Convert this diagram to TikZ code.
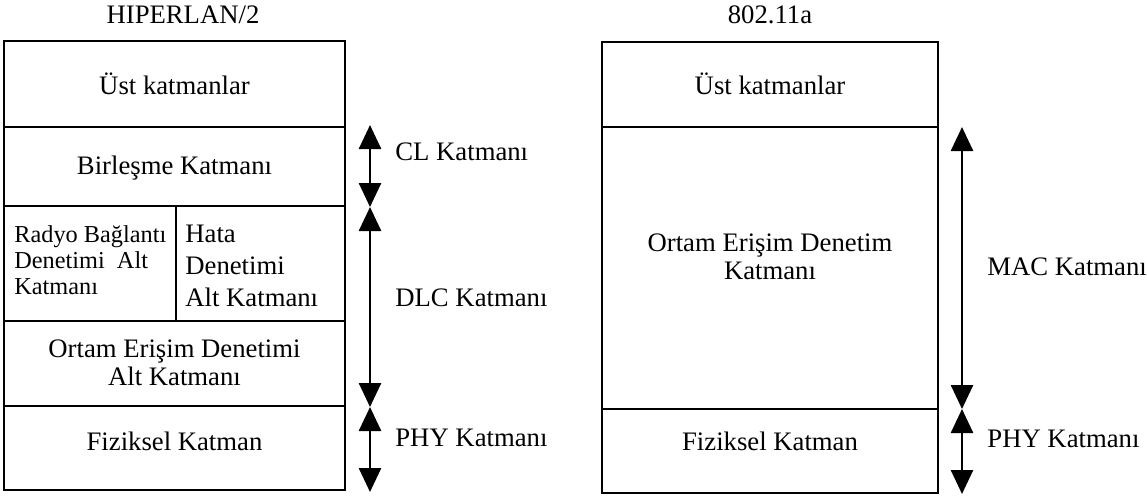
\documentclass[tikz,border=0pt]{standalone}
\usepackage{fontspec}
\setmainfont{Liberation Serif}
\usetikzlibrary{arrows.meta,fit}
\begin{document}
\begin{tikzpicture}[x=0.5pt,y=-0.5pt,
  box/.style={draw, line width=1.4pt, inner sep=0pt},
  lbl/.style={font=\fontsize{13.35}{14}\selectfont, inner sep=0pt},
  dim/.style={line width=1.3pt, {Triangle[width=11pt,length=12pt]}-{Triangle[width=11pt,length=12pt]}}]
\useasboundingbox (0,0) rectangle (1147,499);

% titles
\node[lbl] (title1) at (183,15) {HIPERLAN/2};
\node[lbl] (title2) at (770,15) {802.11a};

% left stack
\node[box, fit={(4,41)(345,127)}] (lust) {};
\node[box, fit={(4,127)(345,206)}] (lcl) {};
\node[box, fit={(4,206)(176,321)}] (lrlc) {};
\node[box, fit={(176,206)(345,321)}] (lec) {};
\node[box, fit={(4,321)(345,406)}] (lmac) {};
\node[box, fit={(4,406)(345,490)}] (lphy) {};

\node[lbl] (tlust) at (174.5,84) {Üst katmanlar};
\node[lbl] (tlcl) at (174.5,168) {Birleşme Katmanı};
\node[lbl, anchor=north west, align=left, font=\fontsize{12.15}{13}\selectfont] (tlrlc) at (14,225) {Radyo Bağlantı\\Denetimi\ \ Alt\\Katmanı};
\node[lbl, anchor=north west, align=left, font=\fontsize{13.35}{16}\selectfont] (tlec) at (185,225) {Hata\\Denetimi\\Alt Katmanı};
\node[lbl, align=center] (tlmac) at (174.5,363) {Ortam Erişim Denetimi\\Alt Katmanı};
\node[lbl] (tlphy) at (174.5,441) {Fiziksel Katman};

% right stack
\node[box, fit={(602,42)(938,127)}] (rust) {};
\node[box, fit={(602,127)(938,409)}] (rmac) {};
\node[box, fit={(602,409)(938,493)}] (rphy) {};

\node[lbl] (trust) at (770,84) {Üst katmanlar};
\node[lbl, align=center] (trmac) at (770,257) {Ortam Erişim Denetim\\Katmanı};
\node[lbl] (trphy) at (770,441) {Fiziksel Katman};

% left arrows
\coordinate (la1) at (370,125);
\coordinate (la2) at (370,207);
\coordinate (la3) at (370,407);
\coordinate (la4) at (370,492);
\draw[dim] (la1) -- (la2);
\draw[dim] (la2) -- (la3);
\draw[dim] (la3) -- (la4);
\node[lbl, anchor=west] (lcllbl) at (395,152) {CL Katmanı};
\node[lbl, anchor=west] (ldlclbl) at (395,298) {DLC Katmanı};
\node[lbl, anchor=west] (lphylbl) at (395,438) {PHY Katmanı};

% right arrows
\coordinate (ra1) at (962,127);
\coordinate (ra2) at (962,409);
\coordinate (ra3) at (962,494);
\draw[dim] (ra1) -- (ra2);
\draw[dim] (ra2) -- (ra3);
\node[lbl, anchor=west] (rmaclbl) at (987,267) {MAC Katmanı};
\node[lbl, anchor=west] (rphylbl) at (987,439) {PHY Katmanı};
\end{tikzpicture}
\end{document}
